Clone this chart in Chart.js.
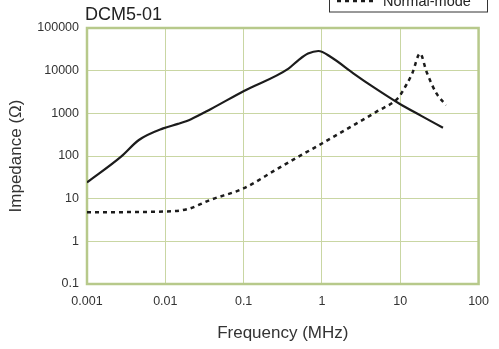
<!DOCTYPE html>
<html>
<head>
<meta charset="utf-8">
<style>
  html, body { margin: 0; padding: 0; background: #fff; }
  #wrap { position: relative; width: 499px; height: 349px; }
</style>
<script src="https://cdn.jsdelivr.net/npm/chart.js@4/dist/chart.umd.min.js"></script>
</head>
<body>
<div id="wrap"><canvas id="c" width="499" height="349"></canvas></div>
<script>
// Impedance vs. frequency for the DCM5-01 choke
const commonFreq  = [0.001, 0.0027, 0.0046, 0.0094, 0.0145, 0.0213, 0.0378, 0.101, 0.374, 0.498, 0.664, 0.90, 1.30, 2.54, 4.5, 9.66, 18.8, 35.1];
const commonZ     = [24, 95, 237, 444, 565, 730, 1250, 3350, 11200, 17500, 25100, 28900, 20900, 8550, 4160, 1700, 861, 458];
const normalFreq  = [0.001, 0.01, 0.0193, 0.0378, 0.101, 0.255, 0.498, 0.975, 2.54, 4.94, 9.66, 10.6, 14.2, 17.9, 21.7, 29, 38.6];
const normalZ     = [4.8, 5.0, 5.7, 9.4, 17.6, 47, 96, 191, 530, 1085, 2430, 3180, 8550, 25100, 9330, 2920, 1555];
const xTickValues = [0.001, 0.01, 0.1, 1, 10, 100];
const yTickValues = [0.1, 1, 10, 100, 1000, 10000, 100000];
const chartTitle  = 'DCM5-01';
const xTitle      = 'Frequency (MHz)';
const yTitle      = 'Impedance (Ω)';
const legendLabel = 'Normal-mode';

const FONT = '"Liberation Sans", Arial, Helvetica, sans-serif';
const GRID = '#c9d6a3';
const FRAME = '#b7c98b';
const INK = '#1c1c1c';

const toPoints = (xs, ys) => xs.map((x, i) => ({ x, y: ys[i] }));

// Plot frame, chart title and the legend box
const decorations = {
  id: 'decorations',
  beforeDatasetsDraw(chart) {
    const { ctx, chartArea: a } = chart;
    ctx.save();
    ctx.strokeStyle = FRAME;
    ctx.lineWidth = 2.5;
    ctx.strokeRect(a.left, a.top, a.right - a.left, a.bottom - a.top);
    ctx.restore();
  },
  afterDraw(chart) {
    const { ctx, chartArea: a } = chart;
    ctx.save();
    ctx.fillStyle = '#222';
    ctx.font = '18px ' + FONT;
    ctx.textBaseline = 'alphabetic';
    ctx.textAlign = 'left';
    ctx.fillText(chartTitle, a.left - 2, 20);

    // legend box
    ctx.strokeStyle = '#333';
    ctx.lineWidth = 1;
    ctx.strokeRect(329.5, -30, 158, 42);
    ctx.strokeStyle = INK;
    ctx.lineWidth = 2.5;
    ctx.setLineDash([4, 4]);
    ctx.beginPath();
    ctx.moveTo(337, 1);
    ctx.lineTo(374, 1);
    ctx.stroke();
    ctx.setLineDash([]);
    ctx.fillStyle = '#222';
    ctx.font = '14.5px ' + FONT;
    ctx.fillText(legendLabel, 383, 6);
    ctx.restore();
  }
};

new Chart(document.getElementById('c'), {
  type: 'line',
  data: {
    datasets: [
      {
        label: 'Common-mode',
        data: toPoints(commonFreq, commonZ),
        borderColor: INK,
        borderWidth: 2.2,
        pointRadius: 0,
        cubicInterpolationMode: 'monotone',
        fill: false
      },
      {
        label: legendLabel,
        data: toPoints(normalFreq, normalZ),
        borderColor: INK,
        borderWidth: 2.5,
        borderDash: [4, 4],
        pointRadius: 0,
        cubicInterpolationMode: 'monotone',
        fill: false
      }
    ]
  },
  plugins: [decorations],
  options: {
    responsive: false,
    animation: false,
    devicePixelRatio: 1,
    layout: { padding: { left: 0, right: 11, top: 28, bottom: 0 } },
    plugins: { legend: { display: false }, title: { display: false }, tooltip: { enabled: false } },
    scales: {
      x: {
        type: 'logarithmic',
        min: 0.001,
        max: 100,
        afterBuildTicks: (s) => { s.ticks = xTickValues.map(v => ({ value: v })); },
        afterFit: (s) => { s.height = 65; },
        ticks: {
          callback: (v) => String(v),
          color: '#333',
          font: { family: FONT, size: 12.5 },
          padding: 10,
          maxRotation: 0,
          autoSkip: false
        },
        grid: { color: GRID, lineWidth: 1, drawTicks: false },
        border: { display: false },
        title: {
          display: true,
          text: xTitle,
          color: '#333',
          font: { family: FONT, size: 17 },
          padding: { top: 0, bottom: 5 }
        }
      },
      y: {
        type: 'logarithmic',
        min: 0.1,
        max: 100000,
        afterBuildTicks: (s) => { s.ticks = yTickValues.map(v => ({ value: v })); },
        afterFit: (s) => { s.width = 87; },
        ticks: {
          callback: (v) => String(v),
          color: '#333',
          font: { family: FONT, size: 12.5 },
          padding: 8,
          autoSkip: false
        },
        grid: { color: GRID, lineWidth: 1, drawTicks: false },
        border: { display: false },
        title: {
          display: true,
          text: yTitle,
          color: '#333',
          font: { family: FONT, size: 17 },
          padding: { top: 6, bottom: 0 }
        }
      }
    }
  }
});
</script>
</body>
</html>
